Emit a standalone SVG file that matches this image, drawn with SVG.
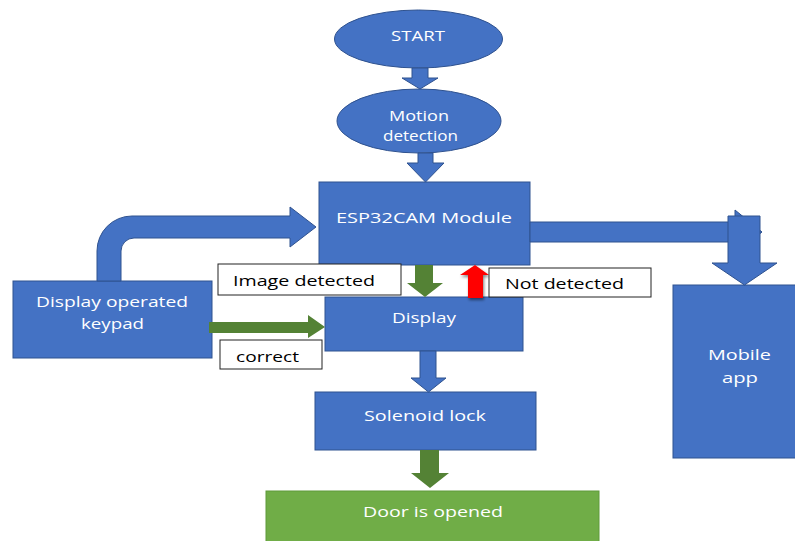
<svg xmlns="http://www.w3.org/2000/svg" width="795" height="541" viewBox="0 0 795 541">
<style>
.blue{fill:#4472C4;stroke:#2F528F;stroke-width:1}
.green{fill:#548235;stroke:none}
.door{fill:#70AD47;stroke:#5E9A3A;stroke-width:1}
.lbl{fill:#FFFFFF;stroke:#222222;stroke-width:1}
.wt{font-family:"Open Sans","Noto Sans",sans-serif;font-size:15px;fill:#FFFFFF}
.bt{font-family:"Open Sans","Noto Sans",sans-serif;font-size:15px;fill:#000000}
</style>
<defs>
<filter id="sh" x="-50%" y="-50%" width="200%" height="200%">
<feGaussianBlur in="SourceAlpha" stdDeviation="1.5"/>
<feOffset dx="1" dy="2" result="b"/>
<feComponentTransfer><feFuncA type="linear" slope="0.5"/></feComponentTransfer>
<feMerge><feMergeNode/><feMergeNode in="SourceGraphic"/></feMerge>
</filter>
</defs>
<rect width="795" height="541" fill="#FFFFFF"/>
<g id="start"><ellipse class="blue" cx="418.5" cy="39" rx="84" ry="29"/><text class="wt" x="391" y="41" textLength="54" lengthAdjust="spacingAndGlyphs">START</text></g>
<g id="motion"><ellipse class="blue" cx="419" cy="121" rx="82" ry="32"/><text class="wt" x="389" y="121" textLength="60" lengthAdjust="spacingAndGlyphs">Motion</text><text class="wt" x="383" y="141" textLength="75" lengthAdjust="spacingAndGlyphs">detection</text></g>
<g id="esp32cam"><rect class="blue" x="319" y="182" width="211" height="83"/><text class="wt" x="336" y="223" textLength="176" lengthAdjust="spacingAndGlyphs">ESP32CAM Module</text></g>
<g id="keypad"><rect class="blue" x="13" y="281" width="199" height="77"/><text class="wt" x="36" y="307" textLength="152" lengthAdjust="spacingAndGlyphs">Display operated</text><text class="wt" x="81" y="329" textLength="63" lengthAdjust="spacingAndGlyphs">keypad</text></g>
<g id="display"><rect class="blue" x="325" y="297" width="198" height="54"/><text class="wt" x="392" y="323" textLength="64" lengthAdjust="spacingAndGlyphs">Display</text></g>
<g id="solenoid"><rect class="blue" x="315" y="392" width="221" height="58"/><text class="wt" x="364" y="421" textLength="122" lengthAdjust="spacingAndGlyphs">Solenoid lock</text></g>
<g id="door"><rect class="door" x="266" y="491" width="333" height="56"/><text class="wt" x="363" y="517" textLength="140" lengthAdjust="spacingAndGlyphs">Door is opened</text></g>
<g id="mobile"><rect class="blue" x="673" y="285" width="130" height="173"/><text class="wt" x="708" y="360" textLength="63" lengthAdjust="spacingAndGlyphs">Mobile</text><text class="wt" x="722" y="383" textLength="36" lengthAdjust="spacingAndGlyphs">app</text></g>
<g id="connectors">
<path class="blue" d="M412,68 H428 V78 H438 L420,89 L402,78 H412 Z"/>
<path class="blue" d="M418,153 H433 V163 H444 L425.5,182 L407,163 H418 Z"/>
<path class="blue" d="M97,281 V251 A35,35 0 0 1 132,216 H290 V207 L316,227 L290,247 V238 H134 A13,13 0 0 0 121,251 V281 Z"/>
<path class="blue" d="M530,222 H735 V210 L762,232 L735,254 V242 H530 Z"/>
<path class="blue" d="M728,216 H760 V263 H777 L744.5,285 L712,263 H728 Z"/>
<path class="green" d="M415,265 H433 V283 H443 L425,297 L407,283 H415 Z"/>
<path fill="#FF0000" filter="url(#sh)" d="M468,298 V275 H460 L475,265 L489,275 H483 V298 Z"/>
<path class="green" d="M209,322 H308 V315 L325,327 L308,338 V333 H209 Z"/>
<path class="blue" d="M420,351 H436 V378 H446 L428.5,392 L411,378 H420 Z"/>
<path class="green" d="M420,450 H439 V473 H449 L430,488 L411,473 H420 Z"/>
</g>
<g id="label-image-detected"><rect class="lbl" x="218" y="264" width="183" height="31"/><text class="bt" x="233" y="286" textLength="142" lengthAdjust="spacingAndGlyphs">Image detected</text></g>
<g id="label-not-detected"><rect class="lbl" x="489" y="268" width="162" height="29"/><text class="bt" x="505" y="289" textLength="119" lengthAdjust="spacingAndGlyphs">Not detected</text></g>
<g id="label-correct"><rect class="lbl" x="220" y="340" width="102" height="29"/><text class="bt" x="236" y="362" textLength="63" lengthAdjust="spacingAndGlyphs">correct</text></g>
</svg>
